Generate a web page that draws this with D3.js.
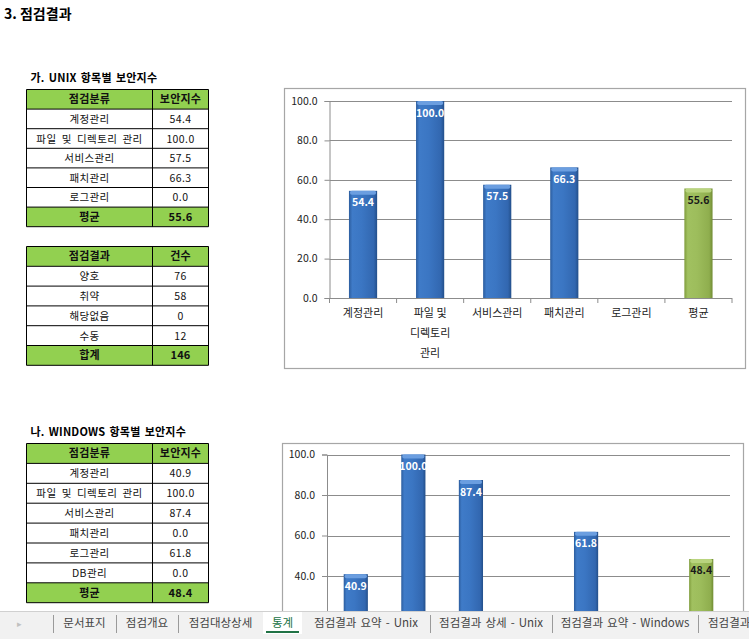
<!DOCTYPE html>
<html>
<head>
<meta charset="utf-8">
<script src="https://cdn.jsdelivr.net/npm/d3@7"></script>
<style>
  body { margin: 0; background: #fff; }
  svg { display: block; font-family: "Noto Sans CJK KR", "Noto Sans", sans-serif; }
</style>
</head>
<body>
<svg id="sheet" width="749" height="639"></svg>
<script>
// ---- data read from the sheet ----
const unixCategories = ["계정관리", "파일 및 디렉토리 관리", "서비스관리", "패치관리", "로그관리"];
const unixScores = [54.4, 100.0, 57.5, 66.3, 0.0];
const unixAverage = 55.6;

const resultLabels = ["양호", "취약", "해당없음", "수동"];
const resultCounts = [76, 58, 0, 12];
const resultTotal = 146;

const winCategories = ["계정관리", "파일 및 디렉토리 관리", "서비스관리", "패치관리", "로그관리", "DB관리"];
const winScores = [40.9, 100.0, 87.4, 0.0, 61.8, 0.0];
const winAverage = 48.4;

const yTicks = [0, 20, 40, 60, 80, 100];
const sheetTabs = ["문서표지", "점검개요", "점검대상상세", "통계", "점검결과 요약 - Unix", "점검결과 상세 - Unix", "점검결과 요약 - Windows", "점검결과"];
const activeTab = "통계";

const svg = d3.select("#sheet");
const fmt = d3.format(".1f");
const stripTop = 611;

// gradients for the bevelled excel bars
const defs = svg.append("defs");
function barGradient(id, stops) {
    const g = defs.append("linearGradient").attr("id", id)
        .attr("x1", 0).attr("x2", 1).attr("y1", 0).attr("y2", 0);
    stops.forEach(s => g.append("stop").attr("offset", s[0]).attr("stop-color", s[1]));
}
barGradient("blueBar", [[0, "#2c5d9e"], [0.12, "#3f7bc8"], [0.45, "#3b76c3"], [0.88, "#3267b0"], [1, "#234f8a"]]);
barGradient("greenBar", [[0, "#7f9c3c"], [0.12, "#a1c160"], [0.45, "#9dbd5c"], [0.88, "#8fae4e"], [1, "#718c33"]]);

// ---- heading ----
svg.append("text").attr("x", 4).attr("y", 19)
    .attr("font-size", 14).attr("font-weight", "bold").text("3. 점검결과");

// ---- tables ----
function drawTable(opt) {
    const g = svg.append("g");
    const rows = [opt.header].concat(opt.rows, [opt.footer]);
    const colX = [opt.x, opt.x + opt.colW[0]];
    const width = opt.colW[0] + opt.colW[1];
    if (opt.title) {
        g.append("text").attr("x", opt.x + 4).attr("y", opt.y - 8)
            .attr("font-size", 11).attr("font-weight", "bold")
            .attr("letter-spacing", 0.2).attr("word-spacing", 1.5).text(opt.title);
    }
    rows.forEach((r, i) => {
        const y = opt.y + i * opt.rowH;
        const strong = i === 0 || i === rows.length - 1;
        g.append("rect").attr("x", opt.x).attr("y", y)
            .attr("width", width).attr("height", opt.rowH)
            .attr("fill", strong ? "#92d050" : "#fff");
        r.forEach((v, c) => {
            g.append("text")
                .attr("x", colX[c] + opt.colW[c] / 2)
                .attr("y", y + opt.rowH / 2 + 4)
                .attr("text-anchor", "middle")
                .attr("font-size", strong ? 11 : 10.5)
                .attr("font-weight", strong ? "bold" : "normal")
                .attr("letter-spacing", strong ? 0.2 : 0.4)
                .attr("word-spacing", 2.5)
                .attr("fill", "#111")
                .text(v);
        });
    });
    // borders
    const h = rows.length * opt.rowH;
    d3.range(rows.length + 1).forEach(i => {
        g.append("line").attr("x1", opt.x).attr("x2", opt.x + width)
            .attr("y1", opt.y + i * opt.rowH).attr("y2", opt.y + i * opt.rowH)
            .attr("stroke", "#000").attr("stroke-width", 1);
    });
    [opt.x, colX[1], opt.x + width].forEach(x => {
        g.append("line").attr("x1", x).attr("x2", x)
            .attr("y1", opt.y).attr("y2", opt.y + h)
            .attr("stroke", "#000").attr("stroke-width", 1);
    });
}

drawTable({
    title: "가. UNIX 항목별 보안지수", x: 26.5, y: 89.5, rowH: 19.6, colW: [126, 56],
    header: ["점검분류", "보안지수"],
    rows: unixCategories.map((c, i) => [c, fmt(unixScores[i])]),
    footer: ["평균", fmt(unixAverage)]
});
drawTable({
    x: 26.5, y: 246.5, rowH: 19.8, colW: [126, 56],
    header: ["점검결과", "건수"],
    rows: resultLabels.map((c, i) => [c, resultCounts[i]]),
    footer: ["합계", resultTotal]
});
drawTable({
    title: "나. WINDOWS 항목별 보안지수", x: 26.5, y: 443.5, rowH: 19.9, colW: [126, 56],
    header: ["점검분류", "보안지수"],
    rows: winCategories.map((c, i) => [c, fmt(winScores[i])]),
    footer: ["평균", fmt(winAverage)]
});

// ---- charts ----
function wrapLabel(textSel, maxW) {
    textSel.each(function () {
        const t = d3.select(this);
        const words = t.text().split(" ");
        const x = t.attr("x");
        t.text(null);
        let line = [];
        let ts = t.append("tspan").attr("x", x).attr("dy", 0);
        words.forEach(w => {
            line.push(w);
            ts.text(line.join(" "));
            if (ts.node().getComputedTextLength() > maxW && line.length > 1) {
                line.pop();
                ts.text(line.join(" "));
                line = [w];
                ts = t.append("tspan").attr("x", x).attr("dy", 20).text(w);
            }
        });
    });
}

let clipCount = 0;
function drawChart(opt) {
    // the sheet tab strip hides whatever runs below it
    const clipId = "chartClip" + (clipCount++);
    defs.append("clipPath").attr("id", clipId)
        .append("rect").attr("x", 0).attr("y", 0).attr("width", 749).attr("height", stripTop);
    const g = svg.append("g").attr("clip-path", `url(#${clipId})`);
    const cats = opt.categories.concat(["평균"]);
    const vals = opt.values.concat([opt.average]);

    g.append("rect").attr("x", opt.box[0]).attr("y", opt.box[1])
        .attr("width", opt.box[2]).attr("height", opt.box[3])
        .attr("fill", "#fff").attr("stroke", "#a6a6a6").attr("stroke-width", 1.2);

    const x = d3.scaleBand().domain(cats).range([opt.left, opt.right])
        .paddingInner(0.58).paddingOuter(0.29);
    const y = d3.scaleLinear().domain([0, 100]).range([opt.zero, opt.top]);
    const shownTicks = yTicks.filter(t => y(t) - 6 < stripTop);

    // gridlines + y axis
    const yAxis = d3.axisLeft(y).tickValues(shownTicks).tickFormat(fmt).tickSize(5).tickPadding(7);
    const ya = g.append("g").attr("transform", `translate(${opt.left},0)`).call(yAxis);
    ya.select(".domain").attr("stroke", "#8c8c8c");
    ya.selectAll(".tick line").attr("stroke", "#8c8c8c");
    ya.selectAll(".tick text").attr("font-size", 10.5).attr("fill", "#222")
        .attr("font-family", "\"Noto Sans CJK KR\", sans-serif");
    g.append("g").selectAll("line").data(shownTicks).join("line")
        .attr("x1", opt.left).attr("x2", opt.right)
        .attr("y1", d => Math.round(y(d)) + 0.5).attr("y2", d => Math.round(y(d)) + 0.5)
        .attr("stroke", "#8c8c8c").attr("stroke-width", 1);

    // category boundary ticks
    g.append("g").selectAll("line").data(d3.range(cats.length + 1)).join("line")
        .attr("x1", i => opt.left + i * x.step()).attr("x2", i => opt.left + i * x.step())
        .attr("y1", opt.zero).attr("y2", opt.zero + 5)
        .attr("stroke", "#8c8c8c");

    // bars
    const bars = g.append("g").selectAll("g").data(vals).join("g");
    bars.append("rect")
        .attr("x", (d, i) => x(cats[i])).attr("y", d => y(d))
        .attr("width", x.bandwidth()).attr("height", d => y(0) - y(d))
        .attr("fill", (d, i) => i === cats.length - 1 ? "url(#greenBar)" : "url(#blueBar)")
        .attr("visibility", d => d > 0 ? "visible" : "hidden");
    bars.append("rect")
        .attr("x", (d, i) => x(cats[i]) + 1).attr("y", d => y(d))
        .attr("width", x.bandwidth() - 2).attr("height", 4).attr("rx", 2)
        .attr("fill", (d, i) => i === cats.length - 1 ? "#b9d47e" : "#6b9ee0")
        .attr("visibility", d => d > 0 ? "visible" : "hidden");
    bars.append("text")
        .attr("x", (d, i) => x(cats[i]) + x.bandwidth() / 2)
        .attr("y", d => y(d) + 15.5)
        .attr("text-anchor", "middle").attr("font-size", 10.5).attr("font-weight", "bold")
        .attr("fill", (d, i) => i === cats.length - 1 ? "#1a1a1a" : "#fff")
        .text(d => d > 0 ? fmt(d) : "");

    // category labels (only where they are not under the tab strip)
    if (opt.zero + 10 < stripTop) {
        g.append("g").selectAll("text").data(cats).join("text")
            .attr("x", d => x(d) + x.bandwidth() / 2)
            .attr("y", opt.zero + 19)
            .attr("text-anchor", "middle").attr("font-size", 11).attr("fill", "#222")
            .text(d => d)
            .call(wrapLabel, 48);
    }
}

drawChart({
    box: [284.5, 88.5, 461, 280],
    left: 329.5, right: 732, top: 101, zero: 298,
    categories: unixCategories, values: unixScores, average: unixAverage
});
drawChart({
    box: [282.5, 443.5, 461, 280],
    left: 327, right: 730, top: 454.5, zero: 657,
    categories: winCategories, values: winScores, average: winAverage
});

// ---- sheet tab strip ----
const tabs = svg.append("g");
tabs.append("rect").attr("x", 0).attr("y", stripTop).attr("width", 749).attr("height", 639 - stripTop).attr("fill", "#f1f1f1");
tabs.append("line").attr("x1", 0).attr("x2", 749).attr("y1", stripTop + 0.5).attr("y2", stripTop + 0.5).attr("stroke", "#d0d0d0");
tabs.append("text").attr("x", 17).attr("y", 627).attr("font-size", 9).attr("fill", "#c0c0c0").text("▸");

// separator positions of the tabs as they sit on screen
const tabEdges = [53, 116, 178, 263, 302, 430, 552, 698, 790];
sheetTabs.forEach((name, i) => {
    const x0 = tabEdges[i], x1 = tabEdges[i + 1];
    const active = name === activeTab;
    if (active) {
        tabs.append("rect").attr("x", x0).attr("y", stripTop + 1)
            .attr("width", x1 - x0).attr("height", 22).attr("fill", "#fff");
        tabs.append("line").attr("x1", x0 + 3).attr("x2", x1 - 3)
            .attr("y1", 632).attr("y2", 632).attr("stroke", "#217346").attr("stroke-width", 2);
    } else if (!(i > 0 && sheetTabs[i - 1] === activeTab)) {
        tabs.append("line").attr("x1", x0 + 0.5).attr("x2", x0 + 0.5)
            .attr("y1", 615).attr("y2", 633).attr("stroke", "#9a9a9a");
    }
    tabs.append("text").attr("y", 627).attr("font-size", 11.5)
        .attr("x", i === sheetTabs.length - 1 ? x0 + 10 : (x0 + x1) / 2)
        .attr("text-anchor", i === sheetTabs.length - 1 ? "start" : "middle")
        .attr("word-spacing", 1.5)
        .attr("fill", active ? "#217346" : "#444").text(name);
});
</script>
</body>
</html>
